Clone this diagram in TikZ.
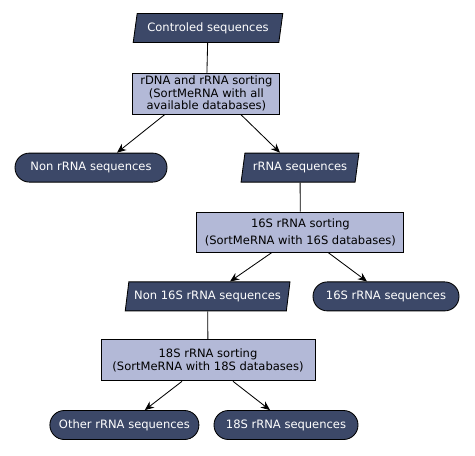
\documentclass[tikz,border=0pt]{standalone}
\usepackage{fontspec}
\setmainfont{DejaVu Sans}
\usetikzlibrary{arrows.meta,shapes.geometric}
\definecolor{navy}{HTML}{3C4868}
\definecolor{lav}{HTML}{B3B9D7}

\begin{document}
\begin{tikzpicture}[>={Stealth[length=6.5pt,width=5.5pt]},line width=0.6pt,font=\fontsize{8.2}{9}\selectfont]
\useasboundingbox (0,0) rectangle (11.875,-11.375);
\tikzstyle{p}=[draw,fill=lav,align=center,minimum height=1.025cm,inner sep=1pt]
\tikzstyle{io}=[draw,fill=navy,text=white,trapezium,trapezium left angle=76,trapezium right angle=104,trapezium stretches=true,minimum height=0.725cm,inner sep=1pt]
\tikzstyle{t}=[draw,fill=navy,text=white,rounded corners=0.36cm,minimum height=0.725cm]
% inputs and sorting steps
\node[io,minimum width=3.75cm] (ctrl) at (5.2,-0.7) {Controled sequences};
\node[p,minimum width=3.675cm] (sort1) at (5.16,-2.34) {rDNA and rRNA sorting\\(SortMeRNA with all\\available databases)};
\node[t,minimum width=3.8cm] (nonr) at (2.275,-4.19) {Non rRNA sequences};
\node[io,minimum width=2.95cm] (rrna) at (7.5,-4.19) {rRNA sequences};
\node[p,minimum width=5.175cm,minimum height=1cm] (sort16) at (7.51,-5.8) {16S rRNA sorting\\[3pt](SortMeRNA with 16S databases)};
\node[io,minimum width=4.125cm] (non16) at (5.19,-7.41) {Non 16S rRNA sequences};
\node[t,minimum width=3.65cm] (s16) at (9.65,-7.41) {16S rRNA sequences};
\node[p,minimum width=5.35cm] (sort18) at (5.2,-9.01) {18S rRNA sorting\\(SortMeRNA with 18S databases)};
\node[t,minimum width=3.725cm] (other) at (3.11,-10.625) {Other rRNA sequences};
\node[t,minimum width=3.6cm] (s18) at (7.15,-10.625) {18S rRNA sequences};
% connectors
\draw (ctrl) -- (sort1);
\draw[->] ([xshift=-1.04cm]sort1.south) -- ([xshift=0.65cm]nonr.north);
\draw[->] ([xshift=0.86cm]sort1.south) -- ([xshift=-0.5cm]rrna.north);
\draw (rrna) -- (sort16);
\draw[->] ([xshift=-0.71cm]sort16.south) -- ([xshift=0.56cm]non16.north);
\draw[->] ([xshift=0.69cm]sort16.south) -- ([xshift=-0.475cm]s16.north);
\draw (non16) -- (sort18);
\draw[->] ([xshift=-0.65cm]sort18.south) -- ([xshift=0.51cm]other.north);
\draw[->] ([xshift=0.625cm]sort18.south) -- ([xshift=-0.4cm]s18.north);
\end{tikzpicture}
\end{document}
